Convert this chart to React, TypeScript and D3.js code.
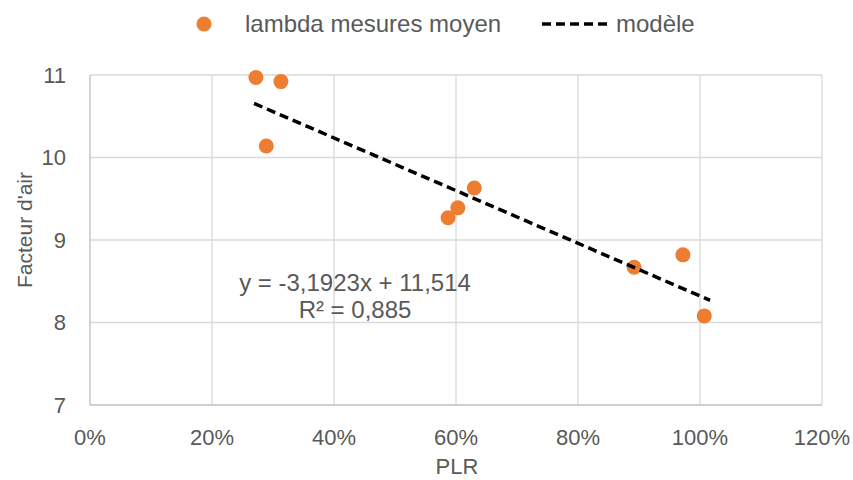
import React from "react";
import * as d3 from "d3";

const plr = [0.272, 0.313, 0.289, 0.587, 0.603, 0.630, 0.892, 0.972, 1.007];
const lambda = [10.97, 10.92, 10.14, 9.27, 9.39, 9.63, 8.67, 8.82, 8.08];
const xTicks = [0, 0.2, 0.4, 0.6, 0.8, 1.0, 1.2];
const yTicks = [7, 8, 9, 10, 11];
const slope = -3.1923;
const intercept = 11.514;
const trendRange = [0.269, 1.0165];
const seriesName = "lambda mesures moyen";
const modelName = "modèle";
const eqText = "y = -3,1923x + 11,514";
const r2Text = "R² = 0,885";

export default function App() {
  const W = 853, H = 480;
  const x = d3.scaleLinear().domain([0, 1.2]).range([90, 822]);
  const y = d3.scaleLinear().domain([7, 11]).range([405, 75]);
  const font = "'Liberation Sans', Arial, sans-serif";
  const grey = "#595959";
  const line = d3.line<number>().x((d) => x(d)).y((d) => y(slope * d + intercept));
  return (
    <svg width={W} height={H} style={{ position: "absolute", left: 0, top: 0, background: "#fff" }} fontFamily={font}>
      {xTicks.slice(1).map((t) => (
        <line key={"gx" + t} x1={x(t)} x2={x(t)} y1={y(11)} y2={y(7)} stroke="#d9d9d9" strokeWidth={1.3} />
      ))}
      {yTicks.slice(1).map((t) => (
        <line key={"gy" + t} x1={x(0)} x2={x(1.2)} y1={y(t)} y2={y(t)} stroke="#d9d9d9" strokeWidth={1.3} />
      ))}
      <line x1={x(0)} x2={x(0)} y1={y(11)} y2={y(7)} stroke="#bfbfbf" strokeWidth={1.3} />
      <line x1={x(0)} x2={x(1.2)} y1={y(7)} y2={y(7)} stroke="#bfbfbf" strokeWidth={1.3} />
      {yTicks.map((t) => (
        <text key={"ty" + t} x={x(0) - 24} y={y(t)} dy="0.35em" textAnchor="end" fontSize={22} fill={grey}>{t}</text>
      ))}
      {xTicks.map((t) => (
        <text key={"tx" + t} x={x(t)} y={y(7) + 40} textAnchor="middle" fontSize={22} fill={grey}>{d3.format(".0%")(t)}</text>
      ))}
      <text x={457} y={474} textAnchor="middle" fontSize={22} fill={grey}>PLR</text>
      <text transform={`translate(32,230) rotate(-90)`} textAnchor="middle" fontSize={21} fill={grey}>Facteur d'air</text>
      {plr.map((p, i) => (
        <circle key={i} cx={x(p)} cy={y(lambda[i])} r={7.5} fill="#ed7d31" />
      ))}
      <path d={line(trendRange) || ""} stroke="#000" strokeWidth={3.5} strokeDasharray="9 5" fill="none" />
      <text x={355} y={291} textAnchor="middle" fontSize={24} fill={grey}>{eqText}</text>
      <text x={355} y={318} textAnchor="middle" fontSize={24} fill={grey}>{r2Text}</text>
      <circle cx={204} cy={24} r={7.5} fill="#ed7d31" />
      <text x={245} y={32} fontSize={24} fill={grey}>{seriesName}</text>
      <line x1={542} x2={612} y1={24} y2={24} stroke="#000" strokeWidth={3.5} strokeDasharray="9 5" />
      <text x={616} y={32} fontSize={24} fill={grey}>{modelName}</text>
    </svg>
  );
}
